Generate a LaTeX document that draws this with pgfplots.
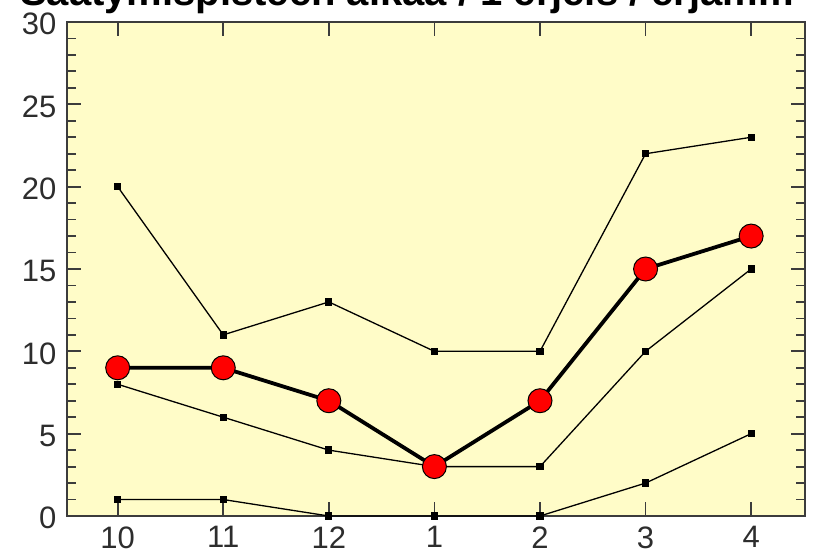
\documentclass[border=0pt]{standalone}
\usepackage{pgfplots}
\pgfplotsset{compat=1.18}
\usepackage{fontspec}
\setmainfont{Liberation Sans}
\definecolor{bgyellow}{RGB}{255,252,200}
\definecolor{framec}{RGB}{60,60,60}
\definecolor{labc}{RGB}{45,45,45}
\begin{document}
\begin{tikzpicture}
\begin{axis}[
  scale only axis,
  width=738pt, height=494pt,
  xmin=-0.48, xmax=6.51,
  ymin=0, ymax=30,
  xtick={0,1,2,3,4,5,6},
  xticklabels={10,11,12,1,2,3,4},
  ytick={0,5,10,15,20,25,30},
  minor y tick num=4,
  tick align=inside,
  xtick pos=both, ytick pos=both,
  major tick length=14pt, minor tick length=9pt,
  every tick/.style={framec, line width=1.8pt},
  axis line style={framec, line width=2pt},
  axis background/.style={fill=bgyellow},
  tick label style={font=\fontsize{31}{33}\selectfont, text=labc},
  /pgf/number format/assume math mode=true,
  xticklabel style={yshift=-7pt},
  yticklabel style={xshift=-7pt, yshift=-2pt},
  clip=false,
]
\addplot[black, line width=1.3pt, mark=square*, mark size=3pt] coordinates {(0,20) (1,11) (2,13) (3,10) (4,10) (5,22) (6,23)};
\addplot[black, line width=1.3pt, mark=square*, mark size=3pt] coordinates {(0,8) (1,6) (2,4) (3,3) (4,3) (5,10) (6,15)};
\addplot[black, line width=1.3pt, mark=square*, mark size=3pt] coordinates {(0,1) (1,1) (2,0) (3,0) (4,0) (5,2) (6,5)};
\addplot[black, line width=3.8pt, mark=*, mark size=12pt, mark options={fill=red, draw=black, line width=1pt}] coordinates {(0,9) (1,9) (2,7) (3,3) (4,7) (5,15) (6,17)};
\end{axis}
\node[anchor=base west, inner sep=0pt, font=\fontsize{40}{42}\selectfont\bfseries] at ([xshift=-47pt, yshift=16pt]current axis.north west) {Saatymispisteen aikaa / 1 erjeis / erjamm};
\pgfresetboundingbox
\useasboundingbox ([xshift=-67pt, yshift=-38pt]current axis.south west) rectangle ([xshift=11pt, yshift=22pt]current axis.north east);
\end{tikzpicture}
\end{document}
